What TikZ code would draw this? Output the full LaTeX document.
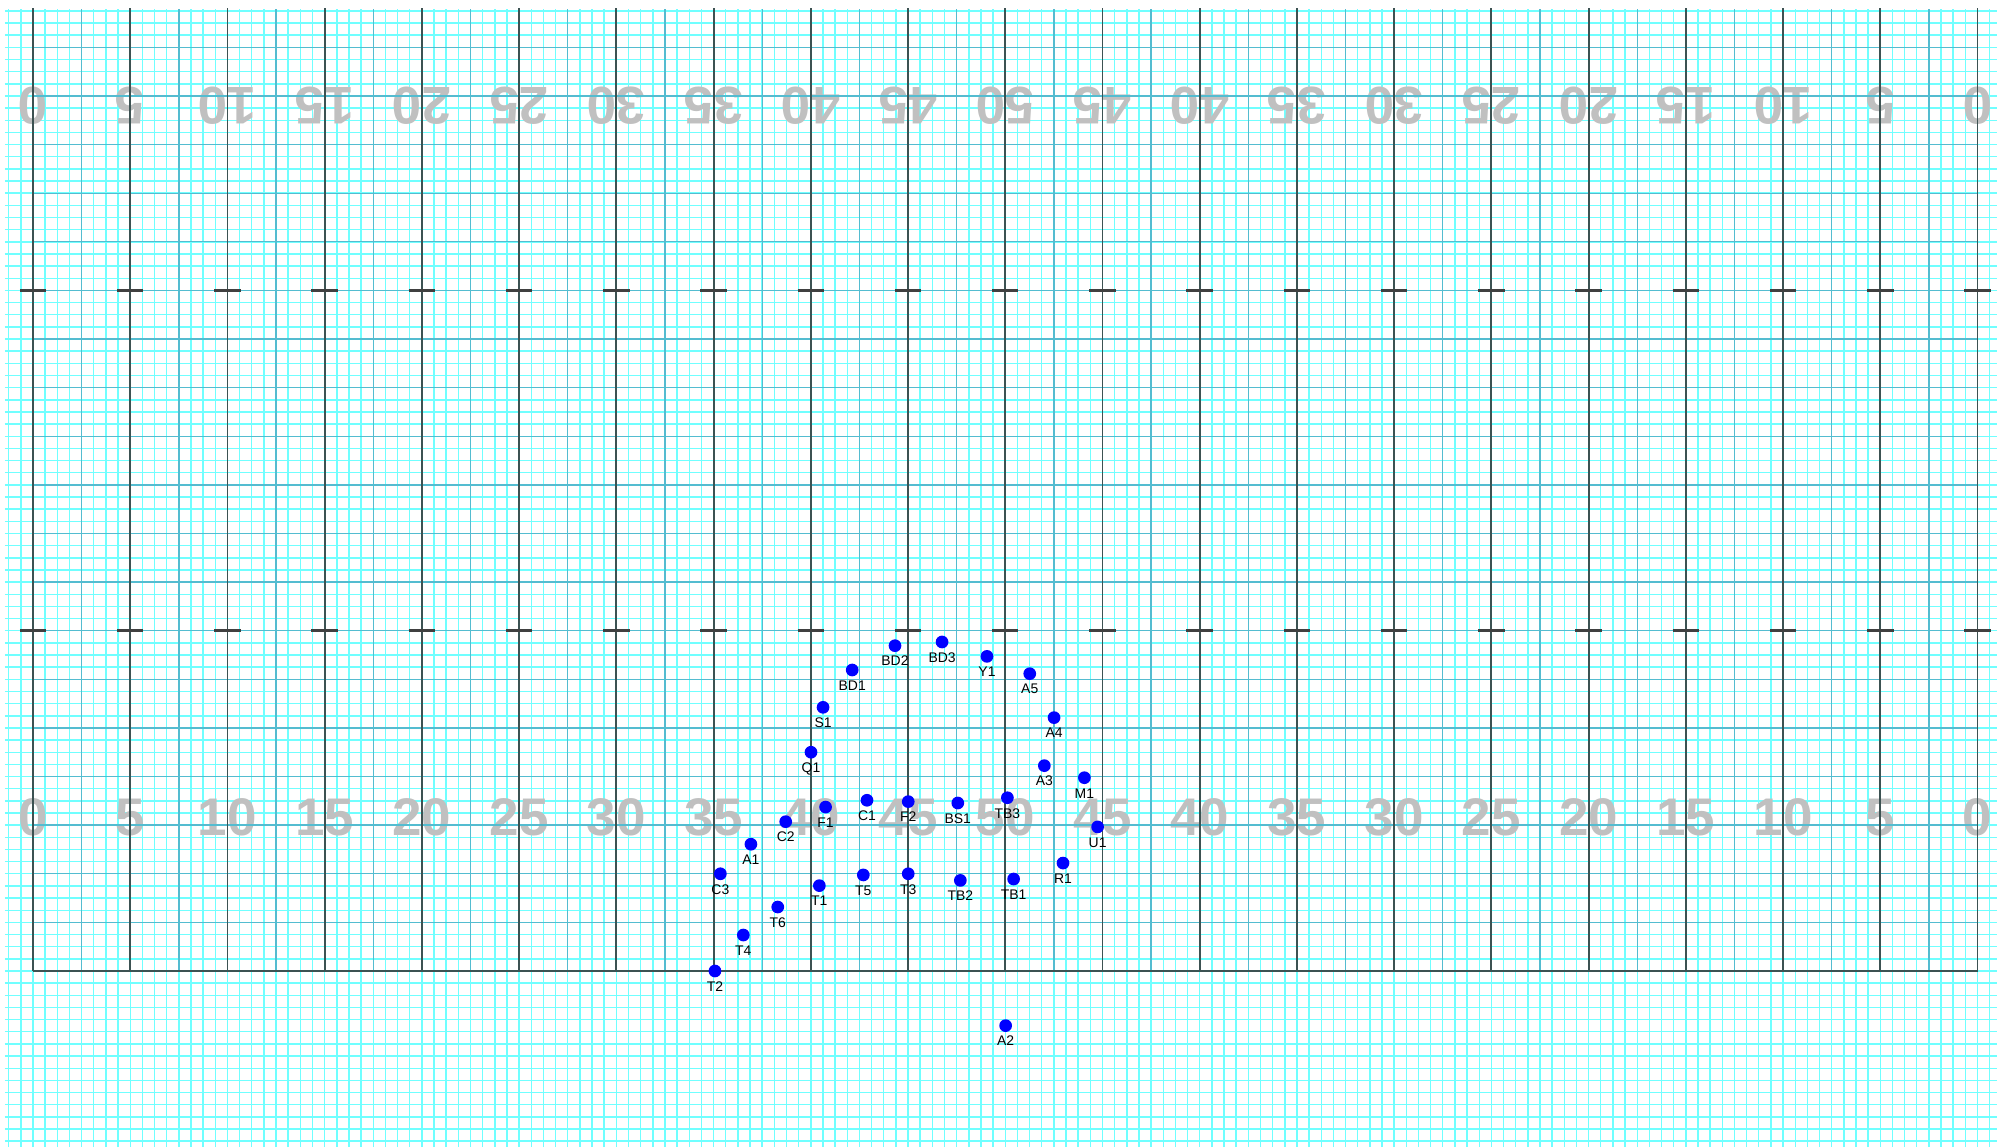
\documentclass[tikz,border=0pt]{standalone}
\usepackage{fontspec}
\setmainfont{Liberation Sans}
\definecolor{finec}{RGB}{112,255,255}
\definecolor{medc}{RGB}{84,188,208}
\definecolor{darkc}{RGB}{60,82,82}
\definecolor{hashc}{RGB}{64,64,64}
\definecolor{numc}{RGB}{192,192,192}
\definecolor{dotc}{RGB}{0,0,255}
\tikzset{
  fineln/.style={draw=finec,line width=2.1pt},
  medln/.style={draw=medc,line width=2.0pt},
  darkln/.style={draw=darkc,line width=2.7pt},
  hashln/.style={draw=hashc,line width=3.8pt},
  yardnum/.style={text=numc,font=\bfseries\fontsize{77.5}{80}\selectfont,inner sep=0pt,anchor=base},
  dot/.style={circle,fill=dotc,draw=none,inner sep=0pt,minimum size=0.654cm},
  lbl/.style={text=black,font=\fontsize{20.4}{22}\selectfont,inner sep=0pt,anchor=base}
}
\begin{document}
\begin{tikzpicture}
\useasboundingbox (-1.697,-9.051) rectangle (101.003,49.936);
\fill[white] (-1.697,-9.051) rectangle (101.003,49.936);
% fine grid
\foreach \k in {-2,...,161} { \draw[fineln] ({\k*0.625},-9.051) -- ({\k*0.625},49.45); }
\foreach \k in {-14,...,79} { \draw[fineln] (-1.44,{\k*0.625}) -- (101.003,{\k*0.625}); }
% yard numbers
\foreach \x/\t in {0/0,5/5,10/10,15/15,20/20,25/25,30/30,35/35,40/40,45/45,50/50,55/45,60/40,65/35,70/30,75/25,80/20,85/15,90/10,95/5,100/0} {
  \node[yardnum] (nb\x) at (\x,6.97) {\t};
  \node[yardnum,rotate=180] (nt\x) at (\x,45.41) {\t};
}
% medium lines
\foreach \x in {2.5,7.5,...,97.5} { \draw[medln] (\x,0) -- (\x,49.45); }
\foreach \y in {2.5,5,...,47.5} { \draw[medln] (0,\y) -- (100,\y); }
% dark lines
\foreach \x in {0,5,...,100} { \draw[darkln] (\x,0) -- (\x,49.5); }
\draw[darkln] (0,0) -- (100,0);
% hash marks
\foreach \x in {0,5,...,100} {
  \draw[hashln] (\x-0.68,17.5) -- (\x+0.68,17.5);
  \draw[hashln] (\x-0.68,35) -- (\x+0.68,35);
}
% players
\foreach \n/\x/\y in {BD2/44.33/16.73, BD3/46.75/16.92, Y1/49.06/16.18, BD1/42.13/15.48, A5/51.26/15.29, S1/40.63/13.56, A4/52.51/13.03, Q1/40.01/11.25, A3/52.01/10.56, M1/54.07/9.94, TB3/50.11/8.91, C1/42.89/8.78, F2/45.01/8.71, BS1/47.56/8.64, F1/40.76/8.43, C2/38.71/7.68, U1/54.75/7.41, A1/36.92/6.52, R1/52.97/5.55, C3/35.35/5.00, T5/42.70/4.94, T3/45.01/5.00, TB2/47.69/4.66, TB1/50.43/4.73, T1/40.44/4.39, T6/38.30/3.29, T4/36.53/1.85, T2/35.07/0, A2/50.02/-2.81} {
  \node[dot] (\n) at (\x,\y) {};
  \node[lbl] (\n-lbl) at ([yshift=-1.044cm]\n.center) {\n};
}
\end{tikzpicture}
\end{document}
